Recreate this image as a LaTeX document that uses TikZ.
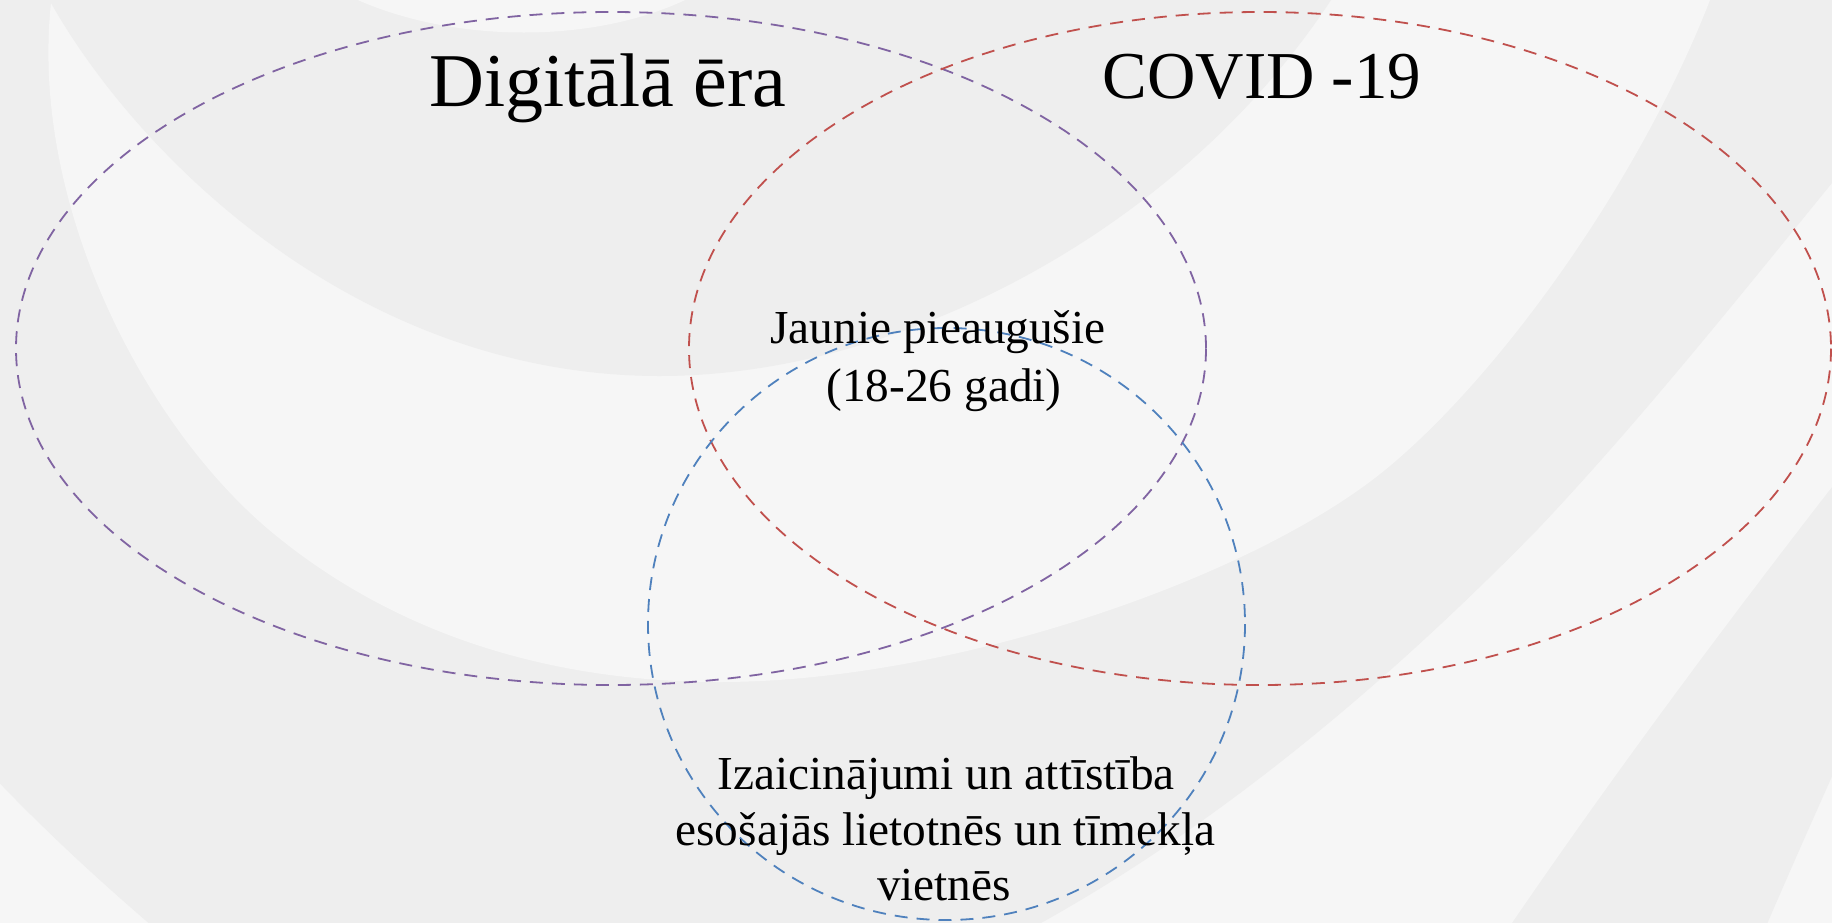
\documentclass[tikz,border=0pt]{standalone}
\usepackage{fontspec}
\setmainfont{Liberation Serif}
\definecolor{bgdark}{RGB}{238,238,238}
\definecolor{bglight}{RGB}{246,246,246}
\definecolor{vpurple}{RGB}{128,100,162}
\definecolor{vred}{RGB}{192,80,77}
\definecolor{vblue}{RGB}{79,129,189}
\begin{document}
\begin{tikzpicture}[x=0.5pt,y=-0.5pt,
  venn/.style={line width=0.9pt, dash pattern=on 6.5pt off 4.5pt},
  bigtitle/.style={anchor=base, inner sep=0pt, font=\fontsize{38}{46}\selectfont},
  covidtitle/.style={anchor=base, inner sep=0pt, font=\fontsize{33.5}{40}\selectfont},
  smalltext/.style={anchor=base, inner sep=0pt, font=\fontsize{23.65}{28}\selectfont}]
\useasboundingbox (0,0) rectangle (1832,922);
% background swirl bands
\begin{scope}
\clip (0,0) rectangle (1832,922);
\fill[bglight] (-60,-60) rectangle (1900,985);
% ring D (dark), bounded by boundary 5
\fill[bgdark] (-60,-60) -- (1900,-60) -- (1900,600) -- (1880,670)
  .. controls (1830,780) and (1790,870) .. (1745,975) -- (-60,985) -- cycle;
% ring C (light), bounded by boundary 4
\fill[bglight] (-60,-60) -- (1900,-60) -- (1900,400)
  .. controls (1750,590) and (1600,790) .. (1470,985) -- (-60,985) -- cycle;
% ring B (dark), bounded by boundary 3
\fill[bgdark] (-60,-60) -- (1900,-60) -- (1900,100)
  .. controls (1780,245) and (1660,400) .. (1538,529)
  .. controls (1400,670) and (1200,850) .. (960,965)
  -- (210,975) .. controls (120,900) and (40,830) .. (-50,730) -- cycle;
% ring A (light crescent), bounded by boundary 2
\fill[bglight] (57,-60) -- (51,3)
  .. controls (30,200) and (140,420) .. (268,529)
  .. controls (400,640) and (560,682) .. (720,682)
  .. controls (950,682) and (1250,580) .. (1385,470)
  .. controls (1500,376) and (1640,180) .. (1710,0)
  -- (1740,-60) -- cycle;
% core (dark), bounded by boundary 1
\fill[bgdark] (0,-57) -- (51,3)
  .. controls (140,160) and (360,376) .. (660,376)
  .. controls (900,376) and (1180,230) .. (1331,0)
  -- (1370,-60) -- cycle;
% light blob at the top
\fill[bglight] (320,-20) .. controls (430,50) and (620,50) .. (720,-20) -- cycle;
\end{scope}
% Venn sets
\draw[venn, vpurple] (611,348.5) ellipse [x radius=595, y radius=336.5];
\draw[venn, vred] (1260,348.5) ellipse [x radius=571, y radius=336.5];
\draw[venn, vblue] (946.5,624) ellipse [x radius=298.5, y radius=296];
% texts
\node[bigtitle] (digital) at (608,106) {Digitālā ēra};
\node[covidtitle] (covid) at (1262,98) {COVID -19};
\node[smalltext] (young1) at (938,343) {Jaunie pieaugušie};
\node[smalltext] (young2) at (944,401) {(18-26 gadi)};
\node[smalltext] (chal1) at (946,789) {Izaicinājumi un attīstība};
\node[smalltext] (chal2) at (945.5,845) {esošajās lietotnēs un tīmekļa};
\node[smalltext] (chal3) at (944,900) {vietnēs};
\end{tikzpicture}
\end{document}
